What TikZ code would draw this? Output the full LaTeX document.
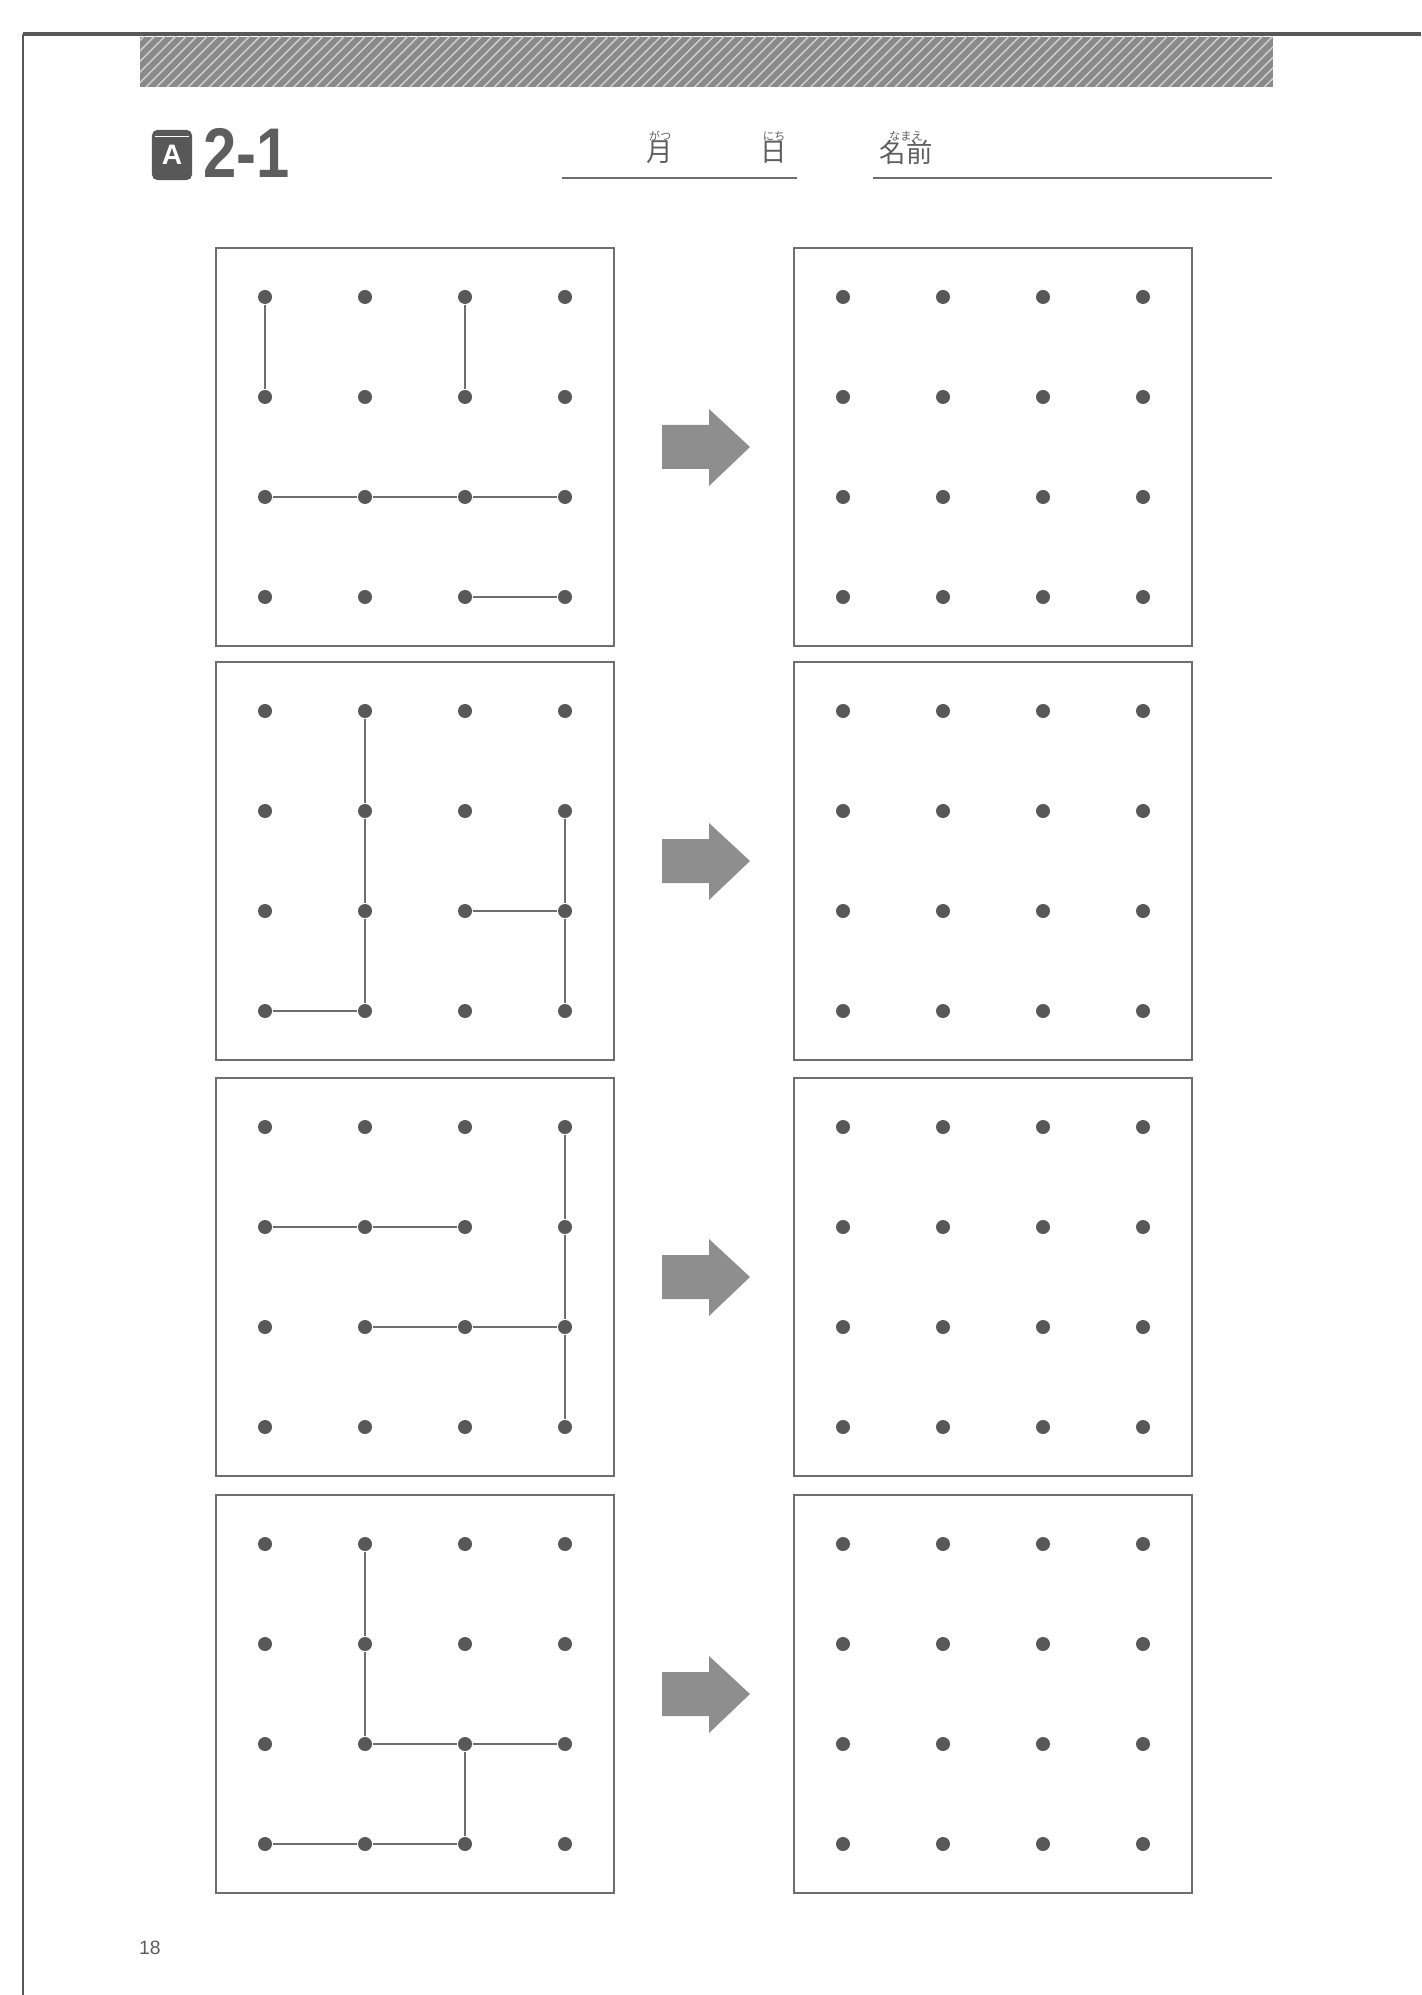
\documentclass[tikz,border=0pt]{standalone}
\usepackage{fontspec}
\setmainfont{Liberation Sans}
\newfontfamily\jpfont{Noto Sans CJK JP}
\usetikzlibrary{patterns}

\definecolor{inkgray}{HTML}{585858}
\definecolor{linegray}{HTML}{6E6E6E}
\definecolor{arrowgray}{HTML}{8E8E8E}
\definecolor{bargray}{HTML}{8A8A8A}
\definecolor{textgray}{HTML}{5E5E5E}

\tikzset{
  peg/.style={circle, fill=inkgray, inner sep=0pt, minimum size=0.14cm},
  band/.style={draw=linegray, line width=0.6pt},
  board/.style={draw=linegray, line width=0.6pt},
  pointer/.style={fill=arrowgray},
  kanji/.style={text=textgray, inner sep=0pt, font=\jpfont\fontsize{7.5}{7.5}\selectfont},
  ruby/.style={text=textgray, inner sep=0pt, font=\jpfont\fontsize{3.2}{3.2}\selectfont},
  rule/.style={draw=linegray, line width=0.6pt}
}

\begin{document}
\begin{tikzpicture}[x=0.01cm, y=-0.01cm]
  \useasboundingbox (0,0) rectangle (1421,1995);

  % page frame and header bar
  \fill[bargray] (140,37) rectangle (1273,87);
  \fill[pattern=north east lines, pattern color=white!60!bargray] (140,37) rectangle (1273,87);
  \draw[inkgray, line width=1.1pt] (23,34) -- (1421,34);
  \draw[inkgray, line width=0.85pt] (23,34) -- (23,1995);

  % title
  \node[fill=inkgray, rounded corners=1.5pt, minimum width=0.4cm, minimum height=0.5cm,
        inner sep=0pt, text=white, font=\bfseries\fontsize{8}{8}\selectfont] (mark) at (172,155) {A};
  \draw[white, line width=0.4pt] ([xshift=1pt, yshift=-2pt]mark.north west) -- ([xshift=-1pt, yshift=-2pt]mark.north east);
  \node[anchor=west, inner sep=0pt, text=textgray, font=\bfseries\fontsize{20}{20}\selectfont]
    (title) at (203,153) {\scalebox{0.85}[1]{2-1}};

  % date and name
  \coordinate (dateL) at (562,178);
  \coordinate (dateR) at (797,178);
  \coordinate (nameL) at (873,178);
  \coordinate (nameR) at (1272,178);
  \draw[rule] (dateL) -- (dateR);
  \draw[rule] (nameL) -- (nameR);
  \node[kanji] (month) at (660,152) {月};
  \node[ruby] (monthR) at (660,136) {がつ};
  \node[kanji] (day) at (774,152) {日};
  \node[ruby] (dayR) at (774,136) {にち};
  \node[kanji] (name) at (906,152) {名前};
  \node[ruby] (nameRb) at (906,136) {なまえ};

  % boards
  \foreach \r/\top in {1/248, 2/662, 3/1078, 4/1495} {
    \draw[board] (216,\top) rectangle ++(398,398);
    \draw[board] (794,\top) rectangle ++(398,398);
    \foreach \i in {0,...,3}
      \foreach \j in {0,...,3} {
        \node[peg] (L\r-\i\j) at ({265+100*\i},{\top+49+100*\j}) {};
        \node[peg] (R\r-\i\j) at ({843+100*\i},{\top+49+100*\j}) {};
      }
    \fill[pointer] (662,\top+177) -- (709,\top+177) -- (709,\top+161) -- (750,\top+199)
      -- (709,\top+238) -- (709,\top+221) -- (662,\top+221) -- cycle;
  }

  % row 1
  \draw[band] (L1-00) -- (L1-01);
  \draw[band] (L1-20) -- (L1-21);
  \draw[band] (L1-02) -- (L1-12) -- (L1-22) -- (L1-32);
  \draw[band] (L1-23) -- (L1-33);
  % row 2
  \draw[band] (L2-10) -- (L2-11) -- (L2-12) -- (L2-13) -- (L2-03);
  \draw[band] (L2-31) -- (L2-32) -- (L2-33);
  \draw[band] (L2-22) -- (L2-32);
  % row 3
  \draw[band] (L3-01) -- (L3-11) -- (L3-21);
  \draw[band] (L3-30) -- (L3-31) -- (L3-32) -- (L3-33);
  \draw[band] (L3-12) -- (L3-22) -- (L3-32);
  % row 4
  \draw[band] (L4-10) -- (L4-11) -- (L4-12) -- (L4-22) -- (L4-32);
  \draw[band] (L4-22) -- (L4-23) -- (L4-13) -- (L4-03);

  \node[text=textgray, font=\fontsize{5.5}{5.5}\selectfont] (pageno) at (150,1948) {18};
\end{tikzpicture}
\end{document}
